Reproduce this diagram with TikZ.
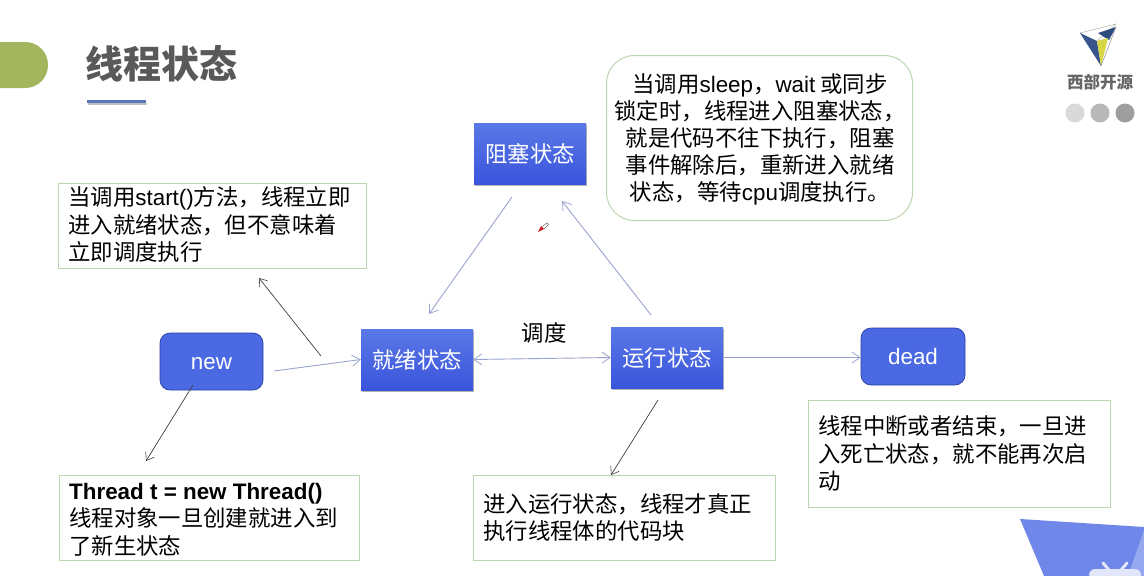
\documentclass[tikz,border=0pt]{standalone}
\usepackage{fontspec}
\setmainfont{Noto Sans CJK SC}
\newfontfamily\latinf{Liberation Sans}
\usetikzlibrary{arrows.meta,shadows,fadings}
\definecolor{nodeblue}{HTML}{4A69E2}
\definecolor{nodetop}{HTML}{5A78E6}
\definecolor{nodebot}{HTML}{3A55DC}
\definecolor{linkblue}{HTML}{9AA3CF}
\definecolor{boxgreen}{HTML}{BCD6B0}
\definecolor{titlegray}{HTML}{595959}
\newcommand{\fs}[2]{\fontsize{#1}{#2}\selectfont}
\newcommand{\la}[1]{{\latinf #1}}
\tikzset{
 x=1pt,y=-1pt,
 statebox/.style={draw=none,minimum width=112pt,minimum height=61pt,inner sep=0pt,top color=nodetop,bottom color=nodebot,text=white,font=\fs{22.4}{26},drop shadow={shadow xshift=1.2pt,shadow yshift=-2pt,opacity=.3,fill=black}},
 endbox/.style={draw=nodebot!75!black,line width=.7pt,rounded corners=10pt,fill=nodeblue,text=white,inner sep=0pt,font=\fs{22.4}{26}\latinf},
 notebox/.style={draw=boxgreen,line width=1pt,fill=white,inner sep=0pt,anchor=north west},
 notetext/.style={anchor=north west,inner sep=0pt,align=left,font=\fs{22.4}{27.5}},
 flow/.style={draw=linkblue,line width=.9pt,-{Straight Barb[length=8pt,width=11pt,line width=.8pt]}},
 flowboth/.style={draw=linkblue,line width=.9pt,{Straight Barb[length=8pt,width=11pt,line width=.8pt]}-{Straight Barb[length=8pt,width=11pt,line width=.8pt]}},
 callout/.style={draw=black!75,line width=.7pt,-{Straight Barb[length=7pt,width=10pt,line width=.6pt]}},
}
\begin{document}
\begin{tikzpicture}
\useasboundingbox (0,0) rectangle (1144,576);
\fill[white] (0,0) rectangle (1144,576);
% header
\fill[fill={rgb,255:red,163;green,182;blue,94}] (0,42) -- (25,42) .. controls (38,42) and (48,52) .. (48,65) .. controls (48,78) and (38,88) .. (25,88) -- (0,88) -- cycle;
\node[anchor=west,inner sep=0pt,text=titlegray,font=\fs{38}{42}\bfseries] (title) at (85,64) {线程状态};
\fill[black!25] (88,103) rectangle (147,105);
\fill[fill={rgb,255:red,92;green,118;blue,190}] (87,100) rectangle (146,102.5);
% logo
\fill[white,draw=black!35,line width=.4pt] (1080,33) -- (1116,24) -- (1096,42) -- cycle;
\fill[fill={rgb,255:red,55;green,85;blue,140}] (1080,33) -- (1097,41) -- (1101,66) -- cycle;
\fill[fill={rgb,255:red,45;green,75;blue,125}] (1116,27) -- (1098,33) -- (1104,37) -- (1109,40) -- cycle;
\fill[fill={rgb,255:red,215;green,215;blue,70}] (1097,41) -- (1108,38) -- (1101,66) -- cycle;
\draw[draw=black!45,line width=.5pt] (1116,27) -- (1101,66);
\node[inner sep=0pt,text=black!60,font=\fs{16.5}{18}\bfseries] (brand) at (1100,82) {西部开源};
\fill[black!15] (1075,113) circle (9.5);
\fill[black!28] (1100,113) circle (9.5);
\fill[black!38] (1125,113) circle (9.5);
% corner
\fill[fill={rgb,255:red,111;green,135;blue,232}] (1020,519) -- (1144,527) -- (1144,576) -- (1044,576) -- cycle;
\fill[fill={rgb,255:red,150;green,168;blue,240}] (1144,530) -- (1128,576) -- (1144,576) -- cycle;
\fill[fill={rgb,255:red,225;green,230;blue,250},rounded corners=6pt] (1089,580) -- (1089,569) -- (1141,569) -- (1141,580) -- cycle;
\draw[draw={rgb,255:red,225;green,230;blue,250},line width=3pt,line cap=round] (1103,563) -- (1109,570) (1127,563) -- (1121,570);
% state nodes
\node[statebox] (blocked) at (530,153.5) {阻塞状态};
\node[statebox] (ready) at (417,359.5) {就绪状态};
\node[statebox] (running) at (667,357.5) {运行状态};
\node[endbox,minimum width=103pt,minimum height=57pt,text height=16pt,text depth=0pt] (new) at (211.5,361.5) {new};
\node[endbox,minimum width=104pt,minimum height=57pt] (dead) at (913,356.5) {dead};
% notes
\node[notebox,minimum width=308pt,minimum height=85pt] (startbox) at (58,183) {};
\node[notetext] (starttext) at (68,186.5) {当调用\la{start()}方法，线程立即\\进入就绪状态，但不意味着\\立即调度执行};
\node[notebox,minimum width=300pt,minimum height=85pt] (threadbox) at (59,475) {};
\node[notetext] (threadtext) at (69,483) {\textbf{\la{Thread t = new Thread()}}\\线程对象一旦创建就进入到\\了新生状态};
\node[notebox,minimum width=302pt,minimum height=85pt] (runbox) at (473,475) {};
\node[notetext] (runtext) at (483,493) {进入运行状态，线程才真正\\执行线程体的代码块};
\node[notebox,minimum width=302pt,minimum height=107pt] (deadbox) at (808,400) {};
\node[notetext] (deadtext) at (818,415.5) {线程中断或者结束，一旦进\\入死亡状态，就不能再次启\\动};
\node[draw=boxgreen,line width=1pt,fill=white,rounded corners=28pt,minimum width=306pt,minimum height=165pt,inner sep=0pt,anchor=north west] (blockbox) at (606,55) {};
\node[inner sep=0pt,align=center,anchor=north,font=\fs{22.4}{27}] (blocktext) at (760,73) {当调用\la{sleep}，\la{wait} 或同步\\锁定时，线程进入阻塞状态，\\就是代码不往下执行，阻塞\\事件解除后，重新进入就绪\\状态，等待\la{cpu}调度执行。};
\node[inner sep=0pt,font=\fs{22.4}{26}] (sched) at (544,333) {调度};
% free ends
\coordinate (a1) at (512,197); \coordinate (a2) at (429,314);
\coordinate (b1) at (651,315); \coordinate (b2) at (562,201);
\coordinate (c1) at (274,371);
\coordinate (d1) at (321,356); \coordinate (d2) at (259,278);
\coordinate (e1) at (193,385); \coordinate (e2) at (146,461);
\coordinate (f1) at (658,400); \coordinate (f2) at (611,475);
\draw[flow] (a1) -- (a2);
\draw[flow] (b1) -- (b2);
\draw[flow] (c1) -- (ready.west);
\draw[flowboth] (ready.east) -- (running.west);
\draw[flow] (running.east) -- (dead.west |- running.east);
\draw[callout] (d1) -- (d2);
\draw[callout] (e1) -- (e2);
\draw[callout] (f1) -- (f2);
% cursor
\fill[fill={rgb,255:red,200;green,30;blue,30}] (538,232) -- (541,226) -- (544,229) -- cycle;
\draw[black!60,line width=.5pt] (542,226.5) -- (547,223) -- (548.5,224.5) -- (544,229);
\end{tikzpicture}
\end{document}
